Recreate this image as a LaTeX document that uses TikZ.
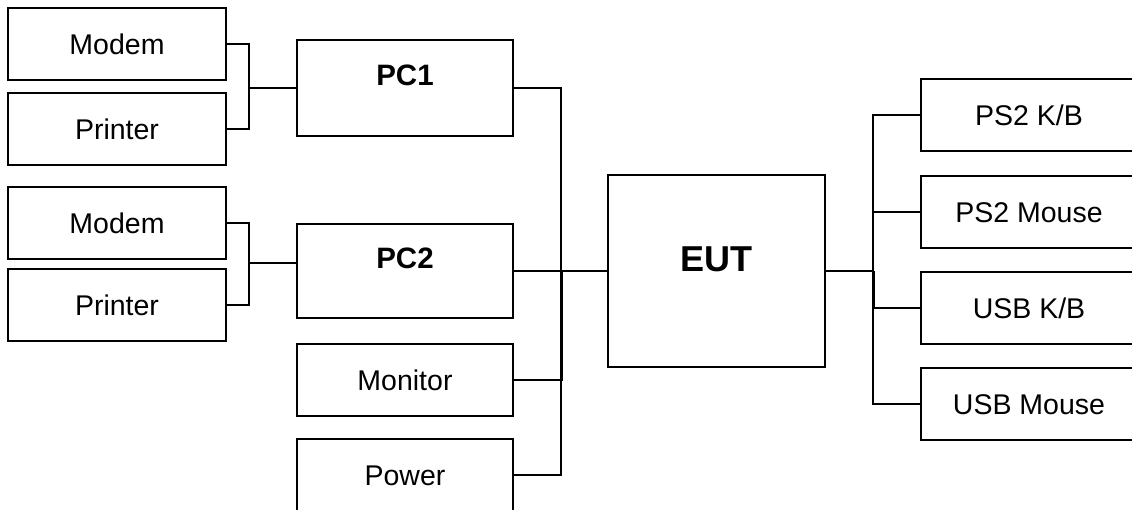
\documentclass[tikz,border=0pt]{standalone}
\usepackage{fontspec}
\setmainfont{Liberation Sans}
\begin{document}
\begin{tikzpicture}[x=1pt,y=-1pt, line width=1.8pt,
  every node/.style={inner sep=0pt, outer sep=0pt},
  dev/.style={draw, anchor=north west, minimum height=72pt, font=\fontsize{28.5}{34}\selectfont, text height=20.4pt, text depth=0pt},
  lbox/.style={dev, minimum width=218pt},
  mbox/.style={dev, minimum width=216pt},
  bigbox/.style={draw, anchor=north west, minimum width=216pt},
  boldlab/.style={font=\bfseries\fontsize{29.5}{34}\selectfont, text height=21pt, text depth=0pt, inner sep=0pt},
  eutlab/.style={font=\bfseries\fontsize{36}{40}\selectfont, text height=26pt, text depth=0pt, inner sep=0pt},
  wire/.style={line width=1.8pt}]
\useasboundingbox (0,0) rectangle (1132,510);
\clip (0,0) rectangle (1132,510);
% left peripherals
\node[lbox] (m1) at (8,8) {Modem};
\node[lbox] (p1) at (8,93) {Printer};
\node[lbox] (m2) at (8,187) {Modem};
\node[lbox] (p2) at (8,269) {Printer};
% PCs and others
\node[bigbox, minimum height=96pt, label={[boldlab, yshift=13pt]center:PC1}] (pc1) at (297,40) {};
\node[bigbox, minimum height=94pt, label={[boldlab, yshift=13pt]center:PC2}] (pc2) at (297,224) {};
\node[mbox] (mon) at (297,344) {Monitor};
\node[mbox] (pow) at (297,439) {Power};
% EUT
\node[bigbox, minimum width=217pt, minimum height=192pt, label={[eutlab, yshift=12pt]center:EUT}] (eut) at (608,175) {};
% right peripherals
\node[mbox] (r1) at (921,79) {PS2 K/B};
\node[mbox] (r2) at (921,176) {PS2 Mouse};
\node[mbox] (r3) at (921,272) {USB K/B};
\node[mbox] (r4) at (921,368) {USB Mouse};
% wires
\coordinate (j1) at (249,88);
\draw[wire] (m1.east) -| (j1) |- (p1.east);
\draw[wire] (j1) -- (pc1.west);
\coordinate (j2) at (249,263);
\draw[wire] (m2.east) -| (j2) |- (p2.east);
\draw[wire] (j2) -- (j2 -| pc2.west);
\coordinate (b) at (561,271);
\draw[wire] (pc1.east) -| (b) |- (pow.east);
\draw[wire] (pc2.east) -- (b) -- (eut.west);
\draw[wire] (mon.east) -| ([xshift=1.2pt]b);
\coordinate (c) at (873,271);
\draw[wire] (eut.east) -- (c);
\draw[wire] (r1.west) -| (c) |- (r4.west);
\draw[wire] (r2.west) -| (c);
\draw[wire] (r3.west) -| ([xshift=1.2pt]c);
\end{tikzpicture}
\end{document}
